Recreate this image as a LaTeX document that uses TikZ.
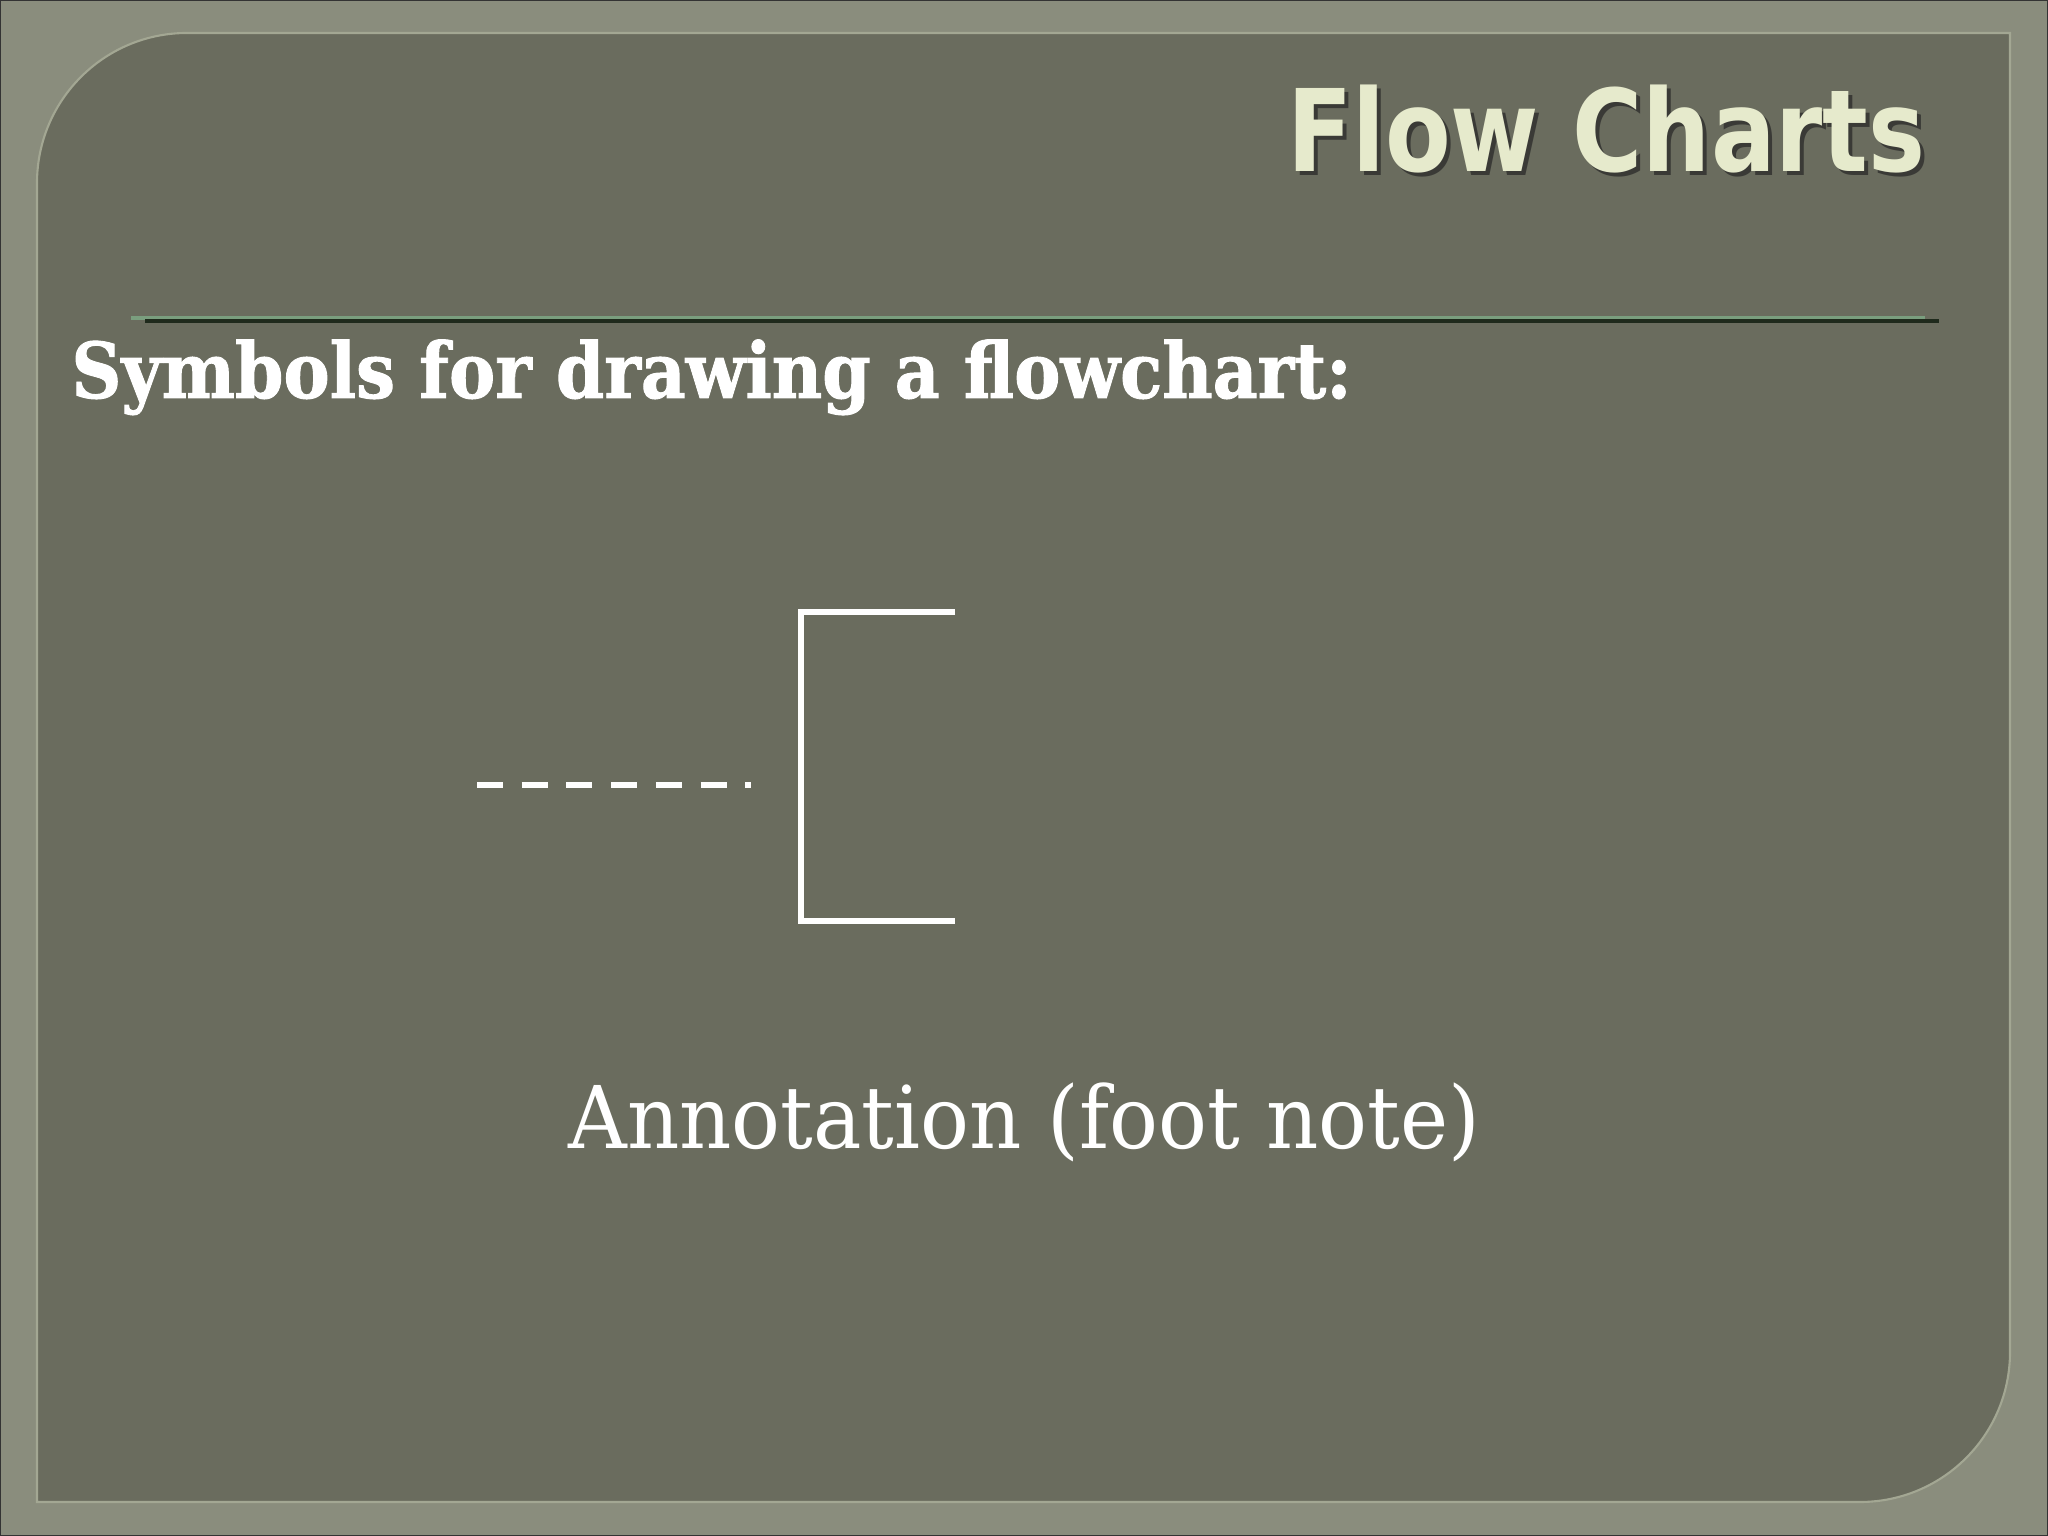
\documentclass[tikz,border=0pt]{standalone}
\usepackage{fontspec}
\usepackage{tkz-euclide}
\newfontfamily\titlefont{DejaVu Sans}[FakeStretch=0.84]
\newfontfamily\headfont{DejaVu Serif}[FakeStretch=0.9,FakeBold=1.2]
\newfontfamily\notefont{DejaVu Serif}[FakeStretch=0.94]
\definecolor{framecol}{HTML}{8A8D7D}
\definecolor{panelcol}{HTML}{6A6C5E}
\definecolor{edgecol}{HTML}{A3A793}
\definecolor{titlecol}{HTML}{E6EACC}
\definecolor{rulegreen}{HTML}{7A9E7E}
\definecolor{ruledark}{HTML}{1F2A1C}
\tikzset{
  bracket/.style={white,line width=1.45pt,line cap=butt,line join=miter},
  dashline/.style={white,line width=1.75pt,line cap=butt,dash pattern=on 0.26cm off 0.187cm},
  titletext/.style={anchor=base east,font=\titlefont\bfseries\fontsize{32.4}{36}\selectfont},
  headtext/.style={anchor=base west,text=white,font=\headfont\bfseries\fontsize{21.9}{26}\selectfont},
  notetext/.style={anchor=base west,text=white,font=\notefont\fontsize{24.6}{30}\selectfont}
}
\begin{document}
\begin{tikzpicture}[x=0.01cm,y=0.01cm]
  \useasboundingbox (0,0) rectangle (2048,1536);
  % frame and panel
  \fill[framecol] (0,0) rectangle (2048,1536);
  \draw[black!80,line width=0.6pt] (0,0) rectangle (2048,1536);
  \filldraw[fill=panelcol,draw=edgecol,line width=0.6pt]
    (37,34) -- (37,1353) arc[start angle=180,end angle=90,radius=150]
    -- (2010,1503) -- (2010,184) arc[start angle=0,end angle=-90,radius=150] -- cycle;
  % title
  \node[titletext,text=black!85,opacity=.7] (titleshadow) at (1942,1360) {Flow Charts};
  \node[titletext,text=titlecol] (title) at (1938,1364) {Flow Charts};
  % divider
  \draw[rulegreen,line width=0.9pt] (131,1218) -- (1925,1218);
  \draw[ruledark,line width=0.9pt] (145,1215) -- (1939,1215);
  \node[headtext] (head) at (59,1138) {Symbols for drawing a flowchart:};
  % annotation symbol
  \tkzDefPoint(955,924){B1}  \tkzDefPoint(801,924){B2}
  \tkzDefPoint(801,615){B3}  \tkzDefPoint(955,615){B4}
  \tkzDefPoint(477,751){D1}  \tkzDefPoint(751,751){D2}
  \tkzDrawPolySeg[bracket](B1,B2,B3,B4)
  \tkzDrawSegment[dashline](D1,D2)
  \node[notetext] (note) at (556,387) {Annotation (foot note)};
\end{tikzpicture}
\end{document}
